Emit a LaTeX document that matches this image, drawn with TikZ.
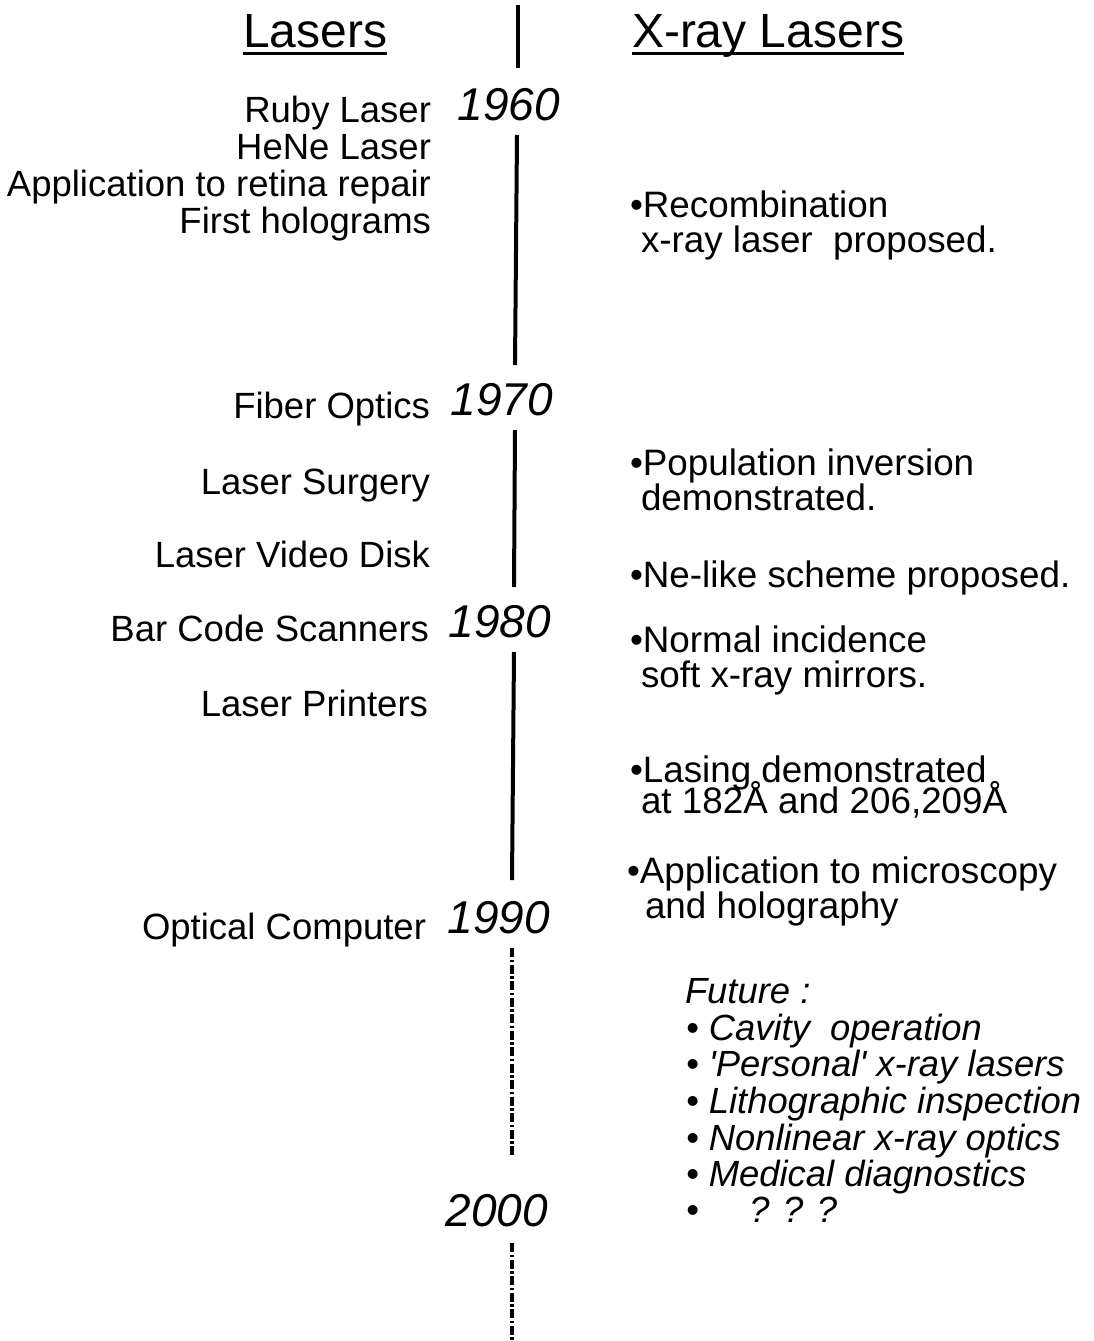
\documentclass[tikz,border=0pt]{standalone}
\usepackage{fontspec}
\newfontfamily\lib{Liberation Sans}
\begin{document}
\begin{tikzpicture}[x=1pt,y=-1pt,
  every node/.style={inner sep=0pt,outer sep=0pt},
  txt/.style={font=\lib\fontsize{36.5}{37}\selectfont},
  ltxt/.style={txt,anchor=base east},
  rtxt/.style={font=\lib\fontsize{36.8}{37}\selectfont,anchor=base west},
  ftxt/.style={font=\lib\itshape\fontsize{36.4}{37}\selectfont,anchor=base west},
  year/.style={font=\lib\itshape\fontsize{46}{46}\selectfont,anchor=base east},
  head/.style={font=\lib\fontsize{48}{48}\selectfont,anchor=base west},
  tline/.style={line width=4pt},
  dline/.style={line width=4pt,dash pattern=on 9pt off 2.5pt on 2.5pt off 2.5pt}]
\useasboundingbox[fill=white] (0,0) rectangle (1094,1341);

% headings
\node[head] (hl) at (243,47) {Lasers};
\node[head] (hx) at (632,47) {X-ray Lasers};
\draw[line width=3pt] ([yshift=-6pt]hl.base west) -- ([yshift=-6pt]hl.base east);
\draw[line width=3pt] ([yshift=-6pt]hx.base west) -- ([yshift=-6pt]hx.base east);

% years
\node[year] (y1960) at (560,120) {1960};
\node[year] (y1970) at (553,415) {1970};
\node[year] (y1980) at (551,637) {1980};
\node[year] (y1990) at (550,933) {1990};
\node[year] (y2000) at (548,1226) {2000};

% timeline
\coordinate (t0a) at (518,5);   \coordinate (t0b) at (518,68);
\coordinate (t1a) at (517,135); \coordinate (t1b) at (515,365);
\coordinate (t2a) at (515,430); \coordinate (t2b) at (514,587);
\coordinate (t3a) at (514,652); \coordinate (t3b) at (512,880);
\coordinate (t4a) at (512,948); \coordinate (t4b) at (512,1157);
\coordinate (t5a) at (512,1243); \coordinate (t5b) at (512,1341);
\draw[tline] (t0a) -- (t0b);
\draw[tline] (t1a) -- (t1b);
\draw[tline] (t2a) -- (t2b);
\draw[tline] (t3a) -- (t3b);
\draw[dline] (t4a) -- (t4b);
\draw[dline] (t5a) -- (t5b);

% left column
\node[ltxt] (l1) at (431,122) {Ruby Laser};
\node[ltxt] (l2) at (431,159) {HeNe Laser};
\node[ltxt] (l3) at (431,196) {Application to retina repair};
\node[ltxt] (l4) at (431,233) {First holograms};
\node[ltxt] (l5) at (430,418) {Fiber Optics};
\node[ltxt] (l6) at (430,494) {Laser Surgery};
\node[ltxt] (l7) at (430,567) {Laser Video Disk};
\node[ltxt] (l8) at (429,641) {Bar Code Scanners};
\node[ltxt] (l9) at (428,716) {Laser Printers};
\node[ltxt] (l10) at (426,939) {Optical Computer};

% right column
\node[rtxt] (r1a) at (630,217) {\textbullet Recombination};
\node[rtxt] (r1b) at (641,252) {x-ray laser\ \ proposed.};
\node[rtxt] (r2a) at (630,475) {\textbullet Population inversion};
\node[rtxt] (r2b) at (641,510) {demonstrated.};
\node[rtxt] (r3) at (630,587) {\textbullet Ne-like scheme proposed.};
\node[rtxt] (r4a) at (630,652) {\textbullet Normal incidence};
\node[rtxt] (r4b) at (641,687) {soft x-ray mirrors.};
\node[rtxt] (r5a) at (630,782) {\textbullet Lasing demonstrated};
\node[rtxt] (r5b) at (641,813) {at 182Å and 206,209Å};
\node[rtxt] (r6a) at (627,883) {\textbullet Application to microscopy};
\node[rtxt] (r6b) at (645,918) {and holography};

% future
\node[ftxt] (f0) at (685,1003) {Future :};
\node[ftxt] (f1) at (686,1040) {\textbullet\ Cavity\ \ operation};
\node[ftxt] (f2) at (686,1076) {\textbullet\ 'Personal' x-ray lasers};
\node[ftxt] (f3) at (686,1113) {\textbullet\ Lithographic inspection};
\node[ftxt] (f4) at (686,1150) {\textbullet\ Nonlinear x-ray optics};
\node[ftxt] (f5) at (686,1186) {\textbullet\ Medical diagnostics};
\node[ftxt] (f6) at (686,1222) {\textbullet\ \ \ \ \ ? ? ?};
\end{tikzpicture}
\end{document}
